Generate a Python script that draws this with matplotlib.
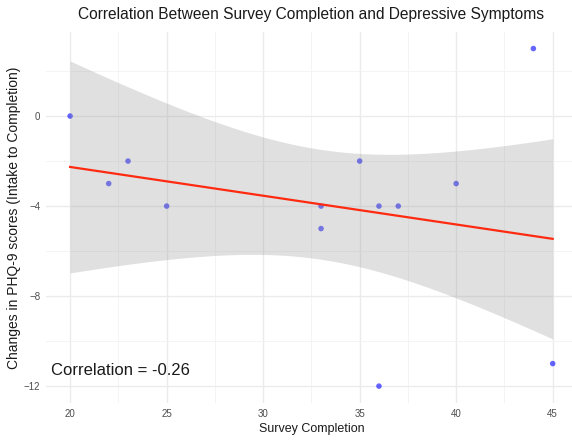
import numpy as np
import matplotlib
matplotlib.use("Agg")
import matplotlib.pyplot as plt
from matplotlib.ticker import MultipleLocator

plt.rcParams["font.family"] = ["Liberation Sans", "DejaVu Sans"]

# Survey completion count vs change in PHQ-9 score
survey_completion = np.array([20, 22, 23, 25, 33, 33, 35, 36, 36, 37, 40, 44, 45], dtype=float)
phq9_change = np.array([0, -3, -2, -4, -4, -5, -2, -4, -12, -4, -3, 3, -11], dtype=float)

T_975_DF11 = 2.201  # two-sided 95% t quantile, n - 2 = 11 degrees of freedom

# --- linear fit with 95% confidence band ---
n = len(survey_completion)
x_mean = survey_completion.mean()
slope, intercept = np.polyfit(survey_completion, phq9_change, 1)
resid = phq9_change - (slope * survey_completion + intercept)
s_err = np.sqrt(np.sum(resid ** 2) / (n - 2))
sxx = np.sum((survey_completion - x_mean) ** 2)

x_fit = np.linspace(survey_completion.min(), survey_completion.max(), 200)
y_fit = slope * x_fit + intercept
half_width = T_975_DF11 * s_err * np.sqrt(1.0 / n + (x_fit - x_mean) ** 2 / sxx)

r = np.corrcoef(survey_completion, phq9_change)[0, 1]

fig = plt.figure(figsize=(5.72, 4.41), dpi=100)
ax = fig.add_axes([0.0804, 0.0862, 0.928, 0.842])

ax.scatter(survey_completion, phq9_change, s=16, color="blue", alpha=0.6,
           edgecolors="none", zorder=2)
ax.fill_between(x_fit, y_fit - half_width, y_fit + half_width,
                color="#999999", alpha=0.3, linewidth=0, zorder=3)
ax.plot(x_fit, y_fit, color="#FF2A10", linewidth=1.6, zorder=4)

ax.text(22.6, -11.3, f"Correlation = {r:.2f}", fontsize=12, ha="center",
        va="center", color="#1a1a1a", zorder=5)

ax.set_xlim(18.75, 46.25)
ax.set_ylim(-12.75, 3.75)
ax.xaxis.set_major_locator(MultipleLocator(5))
ax.xaxis.set_minor_locator(MultipleLocator(2.5))
ax.yaxis.set_major_locator(MultipleLocator(4))
ax.yaxis.set_minor_locator(MultipleLocator(2))

# minimal theme: no frame, light grid
for spine in ax.spines.values():
    spine.set_visible(False)
ax.grid(which="major", color="#EBEBEB", linewidth=1.0)
ax.grid(which="minor", color="#F2F2F2", linewidth=0.6)
ax.set_axisbelow(True)
ax.tick_params(which="both", length=0, labelsize=7, labelcolor="#4D4D4D", pad=4)

ax.set_xlabel("Survey Completion", fontsize=9, color="#1a1a1a", labelpad=3)
ax.set_ylabel("Changes in PHQ-9 scores (Intake to Completion)", fontsize=10,
              color="#1a1a1a", labelpad=2)
ax.set_title("Correlation Between Survey Completion and Depressive Symptoms",
             fontsize=11.2, color="#1a1a1a", pad=9)

fig.savefig("out.png", dpi=100)
